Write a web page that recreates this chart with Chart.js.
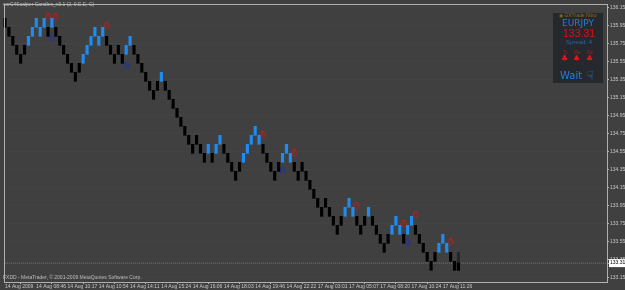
<!DOCTYPE html>
<html>
<head>
<meta charset="utf-8">
<title>EURJPY renko</title>
<script src="https://cdn.jsdelivr.net/npm/chart.js@4/dist/chart.umd.min.js"></script>
<style>
    html, body { margin: 0; padding: 0; background: #404040; }
    #wrap { position: relative; width: 625px; height: 290px; overflow: hidden; font-family: "Liberation Sans", sans-serif; }
    #wrap canvas { position: absolute; left: 0; top: 0; }
    .note { position: absolute; white-space: nowrap; color: #bcbcbc; font-size: 5px; line-height: 7px; }
    #panel { position: absolute; left: 553px; top: 13px; width: 50px; height: 70px; background: #25292e; }
    #panel div { position: absolute; white-space: nowrap; }
</style>
</head>
<body>
<div id="wrap">
    <canvas id="chart" width="625" height="290"></canvas>
    <div class="note" style="left:3px;top:1px">snrC4Scalper Candles_v3.1 (2, 0.E.E, C)</div>
    <div class="note" style="left:3px;top:274px">FXDD - MetaTrader, © 2001-2009 MetaQuotes Software Corp.</div>
    <div id="panel">
        <div style="left:6px;top:-1px;font-size:5px;line-height:7px;color:#8a6a2a">◉ GXTrade Nitro</div>
        <div style="left:9px;top:4px;font-family:'DejaVu Sans';font-size:9px;line-height:12px;color:#1e7fe0">EURJPY</div>
        <div style="left:10px;top:14px;font-size:10.5px;line-height:13px;color:#e01010">133.31</div>
        <div style="left:13px;top:25px;font-size:6px;line-height:8px;color:#2a64a8">Spread: 4</div>
        <div style="left:10px;top:37px;font-size:4.5px;line-height:6px;color:#a02020">Tr.</div>
        <div style="left:21px;top:37px;font-size:4.5px;line-height:6px;color:#a02020">Mo</div>
        <div style="left:34px;top:37px;font-size:4.5px;line-height:6px;color:#a02020">Mo</div>
        <div style="left:8px;top:41px;font-family:'DejaVu Sans';font-size:8px;line-height:10px;color:#ee1515">♣</div>
        <div style="left:20px;top:41px;font-family:'DejaVu Sans';font-size:8px;line-height:10px;color:#ee1515">♣</div>
        <div style="left:33px;top:41px;font-family:'DejaVu Sans';font-size:8px;line-height:10px;color:#ee1515">♣</div>
        <div style="left:7px;top:56px;font-family:'DejaVu Sans';font-size:10px;line-height:14px;color:#1e7fe0">Wait</div>
        <div style="left:34px;top:56px;font-family:'DejaVu Sans';font-size:11px;line-height:14px;color:#3a78c0">☟</div>
    </div>
</div>
<script>
// top of each 10 pip brick, oldest first
const brickTops = [
    136.03, 135.93, 135.83, 135.73, 135.63, 135.73, 135.83, 135.93, 136.03, 135.93,
    136.03, 135.93, 136.03, 135.93, 135.83, 135.73, 135.63, 135.53, 135.43, 135.53,
    135.63, 135.73, 135.83, 135.93, 135.83, 135.93, 135.83, 135.73, 135.63, 135.73,
    135.63, 135.73, 135.83, 135.73, 135.63, 135.53, 135.43, 135.33, 135.23, 135.33,
    135.43, 135.33, 135.23, 135.13, 135.03, 134.93, 134.83, 134.73, 134.63, 134.73,
    134.63, 134.53, 134.63, 134.53, 134.63, 134.73, 134.63, 134.53, 134.43, 134.33,
    134.43, 134.53, 134.63, 134.73, 134.83, 134.73, 134.63, 134.53, 134.43, 134.33,
    134.43, 134.53, 134.63, 134.53, 134.43, 134.33, 134.43, 134.33, 134.23, 134.13,
    134.03, 133.93, 134.03, 133.93, 133.83, 133.73, 133.83, 133.93, 134.03, 133.93,
    133.83, 133.73, 133.83, 133.93, 133.83, 133.73, 133.63, 133.53, 133.63, 133.73,
    133.83, 133.73, 133.63, 133.73, 133.83, 133.73, 133.63, 133.53, 133.43, 133.33,
    133.43, 133.53, 133.63, 133.53, 133.43, 133.33
];
// 'b' = blue brick, 'k' = black brick
const brickKinds = [
    'k','k','k','k','k','k','b','b','b','b',
    'b','k','b','k','k','k','k','k','k','k',
    'b','b','b','b','b','b','k','k','k','k',
    'k','b','b','k','k','k','k','k','k','k',
    'b','k','k','k','k','k','k','k','k','k',
    'k','k','b','k','b','b','k','k','k','k',
    'k','b','b','b','b','b','k','k','k','k',
    'k','b','b','b','k','k','k','k','k','k',
    'k','k','k','k','k','k','k','b','b','b',
    'k','k','k','b','k','k','k','k','k','b',
    'b','b','k','b','b','k','k','k','k','k',
    'k','b','b','b','k','k'
];
const brickSize = 0.1;

// the brick still forming at the right hand end
const liveIndex = 116;
const liveRange = [133.23, 133.43];
const liveBlack = [133.23, 133.31];
const currentPrice = 133.31;

const downArrowBars = [11, 13, 26, 66, 74, 90, 102, 105, 114];
const downArrowPrices = [136.04, 136.05, 135.95, 134.73, 134.53, 133.95, 133.74, 133.85, 133.54];
const upArrowBars = [12, 31, 71, 103];
const upArrowPrices = [135.82, 135.51, 134.34, 133.54];

const timeLabels = [
    '14 Aug 2009', '14 Aug 08:46', '14 Aug 10:17', '14 Aug 10:54', '14 Aug 14:11',
    '14 Aug 15:24', '14 Aug 16:06', '14 Aug 18:03', '14 Aug 19:46', '14 Aug 22:22',
    '17 Aug 03:01', '17 Aug 05:07', '17 Aug 08:20', '17 Aug 10:24', '17 Aug 11:26'
];
const priceTicks = [
    136.15, 135.95, 135.75, 135.55, 135.35, 135.15, 134.95, 134.75,
    134.55, 134.35, 134.15, 133.95, 133.75, 133.55, 133.35, 133.15
];
const barsPerLabel = 8;
const barSlots = 155;

// small hollow arrow used as a point style
function makeArrow(color, pointsUp) {
    const c = document.createElement('canvas');
    c.width = 7;
    c.height = 8;
    const g = c.getContext('2d');
    if (!pointsUp) {
        g.translate(0, 8);
        g.scale(1, -1);
    }
    g.strokeStyle = color;
    g.lineWidth = 1;
    g.beginPath();
    g.moveTo(3.5, 0.5);
    g.lineTo(6.5, 4);
    g.lineTo(5, 4);
    g.lineTo(5, 7.5);
    g.lineTo(2, 7.5);
    g.lineTo(2, 4);
    g.lineTo(0.5, 4);
    g.closePath();
    g.stroke();
    return c;
}

// light grey border round the plot
const framePlugin = {
    id: 'frame',
    afterDatasetsDraw(chart) {
        const a = chart.chartArea;
        const g = chart.ctx;
        g.save();
        g.strokeStyle = '#b0b0b0';
        g.lineWidth = 1;
        g.strokeRect(a.left - 0.5, a.top - 0.5, a.right - a.left + 1, a.bottom - a.top + 1);
        g.restore();
    }
};

const categories = Array.from({ length: barSlots }, (_, i) => i);
const bricks = brickTops.map(top => [+(top - brickSize).toFixed(2), top]);
const brickColors = brickKinds.map(k => k === 'b' ? '#1e8cf0' : '#000000');

new Chart(document.getElementById('chart'), {
    data: {
        labels: categories,
        datasets: [
            {
                type: 'bar',
                data: bricks,
                backgroundColor: brickColors,
                barThickness: 2.5,
                grouped: false,
                clip: false
            },
            {
                type: 'bar',
                data: categories.map(i => i === liveIndex ? liveRange : null),
                backgroundColor: '#262626',
                barThickness: 2.5,
                grouped: false,
                order: 2
            },
            {
                type: 'bar',
                data: categories.map(i => i === liveIndex ? liveBlack : null),
                backgroundColor: '#000000',
                barThickness: 2.5,
                grouped: false,
                order: 1
            },
            {
                type: 'line',
                data: categories.map(() => currentPrice),
                borderColor: '#7a7468',
                borderWidth: 1,
                borderDash: [1, 1],
                pointRadius: 0,
                order: 3
            },
            {
                type: 'scatter',
                data: downArrowBars.map((b, i) => ({ x: b, y: downArrowPrices[i] })),
                pointStyle: makeArrow('#c01c1c', false),
                order: 0
            },
            {
                type: 'scatter',
                data: upArrowBars.map((b, i) => ({ x: b, y: upArrowPrices[i] })),
                pointStyle: makeArrow('#2030b0', true),
                order: 0
            }
        ]
    },
    options: {
        responsive: false,
        animation: false,
        layout: { padding: { left: 2, top: 3, right: 0, bottom: 0 } },
        plugins: { legend: { display: false }, tooltip: { enabled: false } },
        scales: {
            x: {
                type: 'category',
                offset: false,
                afterBuildTicks(scale) {
                    scale.ticks = scale.ticks.filter(t => t.value % barsPerLabel === 0 && t.value / barsPerLabel < timeLabels.length);
                },
                afterFit(scale) { scale.height = 8; },
                grid: {
                    drawOnChartArea: false,
                    tickColor: '#b0b0b0',
                    tickLength: 2
                },
                border: { display: false },
                ticks: {
                    autoSkip: false,
                    maxRotation: 0,
                    minRotation: 0,
                    align: 'start',
                    padding: 0,
                    color: '#c8c8c8',
                    font: { family: 'Liberation Sans', size: 5 },
                    callback: value => timeLabels[value / barsPerLabel]
                }
            },
            y: {
                position: 'right',
                min: 133.10,
                max: 136.178,
                afterBuildTicks(scale) {
                    scale.ticks = priceTicks.concat(currentPrice).map(v => ({ value: v }));
                },
                afterFit(scale) { scale.width = 18; },
                grid: {
                    color: 'rgba(255,255,255,0.02)',
                    tickColor: '#b0b0b0',
                    tickLength: 2
                },
                border: { display: false },
                ticks: {
                    padding: 1,
                    font: { family: 'Liberation Sans', size: 5 },
                    color: ctx => ctx.tick && ctx.tick.value === currentPrice ? '#000000' : '#c8c8c8',
                    showLabelBackdrop: ctx => !!ctx.tick && ctx.tick.value === currentPrice,
                    backdropColor: '#ffffff',
                    backdropPadding: 1,
                    callback: value => value.toFixed(2)
                }
            }
        }
    },
    plugins: [framePlugin]
});
</script>
</body>
</html>
